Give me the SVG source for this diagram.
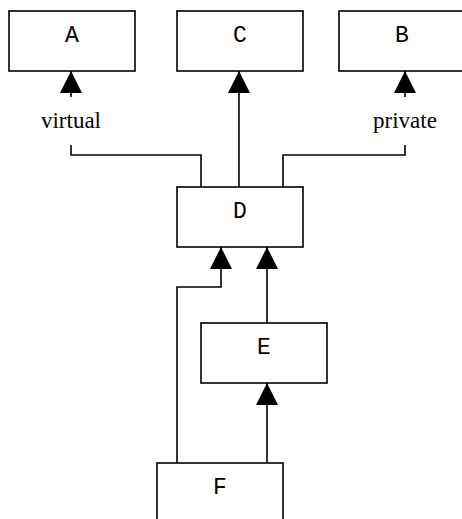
<svg xmlns="http://www.w3.org/2000/svg" width="462" height="519" viewBox="0 0 462 519">
<defs>
<style>
.box{fill:#fff;stroke:#000;stroke-width:1.6}
.lbl{font-family:"Liberation Mono","Courier New",monospace;font-size:23px;text-anchor:middle;fill:#000}
.edge{fill:none;stroke:#000;stroke-width:1.6}
.el{font-family:"Liberation Serif","Times New Roman",serif;font-size:23px;text-anchor:middle;fill:#000}
</style>
<marker id="arr" markerUnits="userSpaceOnUse" markerWidth="22" markerHeight="22" viewBox="0 0 20 20" refX="20" refY="10" orient="auto">
<path d="M0 0 L20 10 L0 20 Z" fill="#000"/>
</marker>
</defs>
<rect width="462" height="519" fill="#fff"/>
<g id="connectors">
<path class="edge" d="M71 97 V71" marker-end="url(#arr)"/>
<path class="edge" d="M71 145 V155 H201 V187"/>
<path class="edge" d="M239 187 V71" marker-end="url(#arr)"/>
<path class="edge" d="M405 97 V71" marker-end="url(#arr)"/>
<path class="edge" d="M405 145 V155 H283 V187"/>
<path class="edge" d="M177 463 V287 H221 V247" marker-end="url(#arr)"/>
<path class="edge" d="M267 323 V247" marker-end="url(#arr)"/>
<path class="edge" d="M267 463 V383" marker-end="url(#arr)"/>
<text class="el" x="71" y="128">virtual</text>
<text class="el" x="405" y="128">private</text>
</g>
<g id="A"><rect class="box" x="9" y="11" width="126" height="60"/><text class="lbl" x="72" y="42">A</text></g>
<g id="C"><rect class="box" x="177" y="11" width="126" height="60"/><text class="lbl" x="240" y="42">C</text></g>
<g id="B"><rect class="box" x="339" y="11" width="126" height="60"/><text class="lbl" x="402" y="42">B</text></g>
<g id="D"><rect class="box" x="177" y="187" width="126" height="60"/><text class="lbl" x="240" y="218">D</text></g>
<g id="E"><rect class="box" x="201" y="323" width="126" height="60"/><text class="lbl" x="264" y="354">E</text></g>
<g id="F"><rect class="box" x="157" y="463" width="126" height="60"/><text class="lbl" x="220" y="494">F</text></g>
</svg>
